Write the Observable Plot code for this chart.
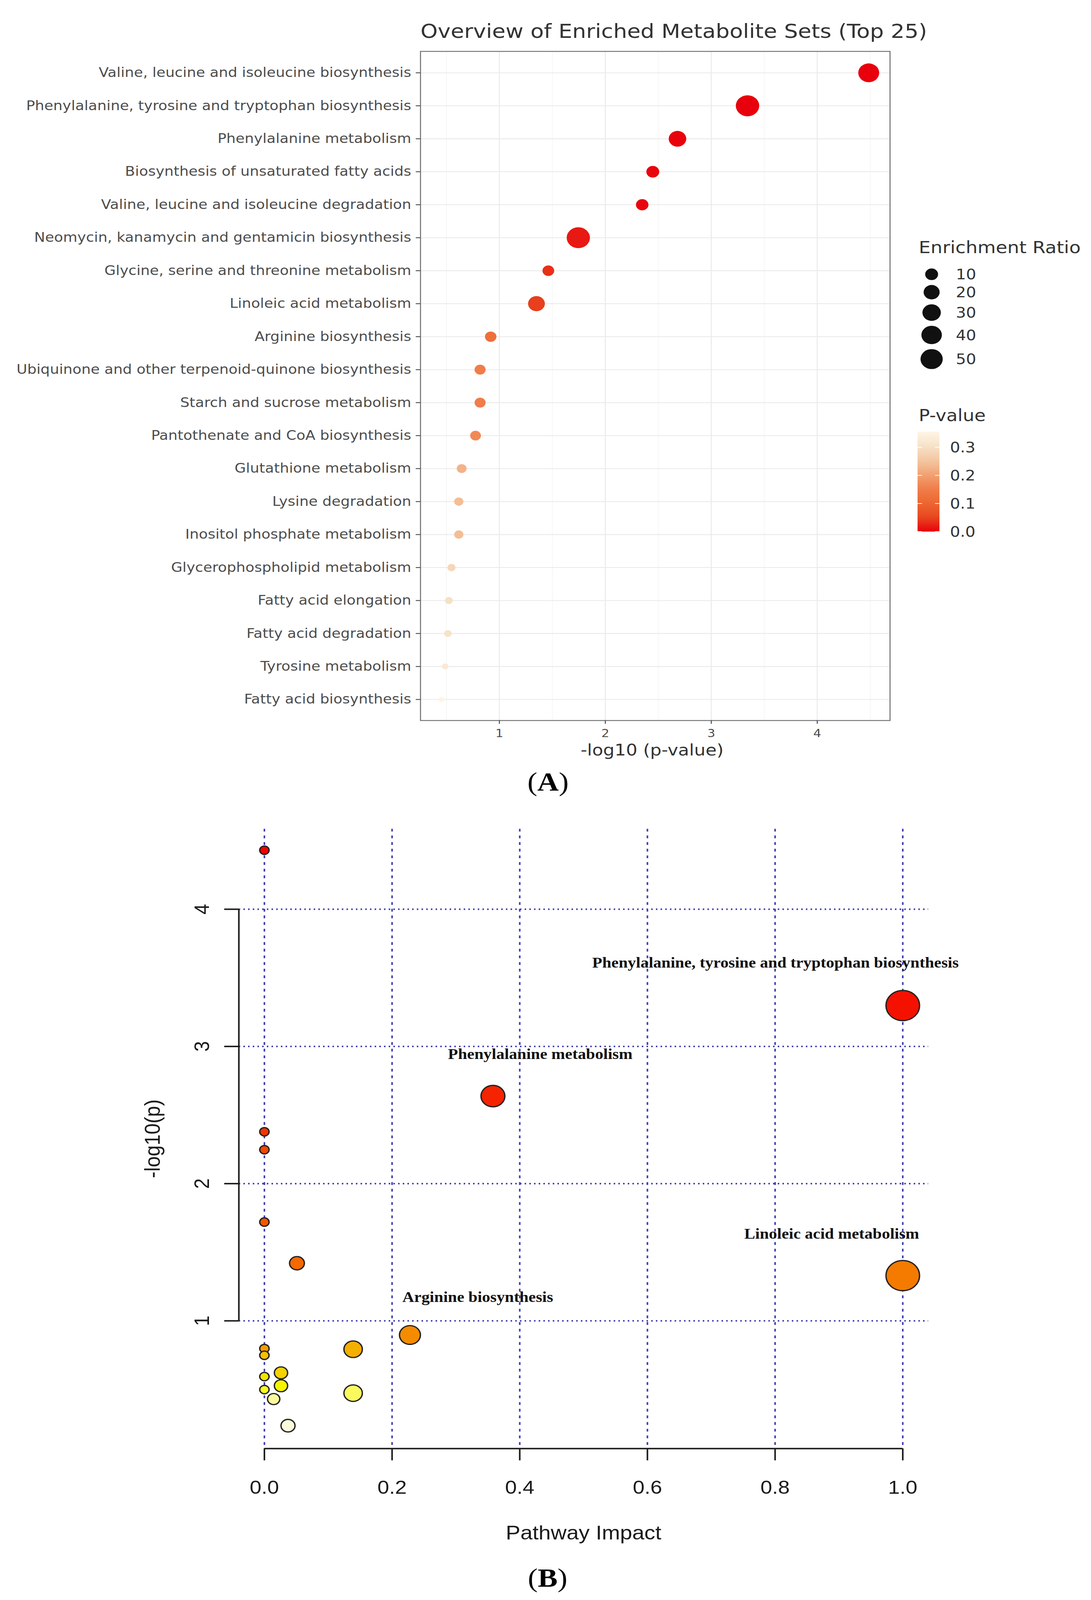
<!DOCTYPE html>
<html><head><meta charset="utf-8">
<script src="https://cdn.jsdelivr.net/npm/d3@7"></script>
<script src="https://cdn.jsdelivr.net/npm/@observablehq/plot@0.6"></script>
<style>
html,body{margin:0;padding:0;background:#fff;overflow:hidden;}
#page{position:relative;width:2793px;height:4560px;overflow:hidden;background:#fff;transform-origin:0 0;}
#page svg{position:absolute;left:0;}
</style></head><body><div id="page"></div>
<script>
// ---------- Panel A data ----------
const setNames = [
  "Valine, leucine and isoleucine biosynthesis",
  "Phenylalanine, tyrosine and tryptophan biosynthesis",
  "Phenylalanine metabolism",
  "Biosynthesis of unsaturated fatty acids",
  "Valine, leucine and isoleucine degradation",
  "Neomycin, kanamycin and gentamicin biosynthesis",
  "Glycine, serine and threonine metabolism",
  "Linoleic acid metabolism",
  "Arginine biosynthesis",
  "Ubiquinone and other terpenoid-quinone biosynthesis",
  "Starch and sucrose metabolism",
  "Pantothenate and CoA biosynthesis",
  "Glutathione metabolism",
  "Lysine degradation",
  "Inositol phosphate metabolism",
  "Glycerophospholipid metabolism",
  "Fatty acid elongation",
  "Fatty acid degradation",
  "Tyrosine metabolism",
  "Fatty acid biosynthesis"
];
const setLogP = [4.486, 3.342, 2.681, 2.448, 2.348, 1.745, 1.462, 1.350, 0.918, 0.818, 0.818, 0.775, 0.644, 0.617, 0.617, 0.548, 0.523, 0.514, 0.488, 0.452];
const setRatio = [42.5, 57, 26, 10, 9, 56, 7.1, 23, 6.7, 5.7, 5.7, 5.2, 3.6, 2.7, 2.7, 1.34, 1.1, 0.96, 0.31, 0.05];
const ratioBreaks = [10, 20, 30, 40, 50];
const pBreaks = [0.0, 0.1, 0.2, 0.3];
const xTicksA = [1, 2, 3, 4];
const xMinorA = [0.5, 1.5, 2.5, 3.5, 4.5];
const titleA = "Overview of Enriched Metabolite Sets (Top 25)";
const xLabelA = "-log10 (p-value)";

// ---------- Panel B data ----------
const impact = [0, 1.0, 0.358, 0, 0, 0, 0.051, 1.0, 0.228, 0, 0.139, 0, 0.026, 0, 0.026, 0, 0.139, 0.0145, 0.037];
const logP   = [4.43, 3.298, 2.638, 2.378, 2.247, 1.72, 1.42, 1.33, 0.897, 0.798, 0.793, 0.749, 0.621, 0.594, 0.527, 0.499, 0.473, 0.430, 0.236];
const pathName = ["", "Phenylalanine, tyrosine and tryptophan biosynthesis", "Phenylalanine metabolism", "", "", "", "",
  "Linoleic acid metabolism", "Arginine biosynthesis", "", "", "", "", "", "", "", "", "", ""];
const xTicksB = [0, 0.2, 0.4, 0.6, 0.8, 1.0];
const yTicksB = [1, 2, 3, 4];
const xLabelB = "Pathway Impact";
const yLabelB = "-log10(p)";

// ---------- Panel A ----------
const dataA = setNames.map((name, i) => ({name, logp: setLogP[i], p: Math.pow(10, -setLogP[i]), ratio: setRatio[i]}));
const pStops = [0, 0.05, 0.1, 0.15, 0.2, 0.25, 0.3, 0.356];
const pColors = ["#e8000c", "#e8461e", "#ec6630", "#f07c48", "#f2a070", "#f3c49e", "#f6e0c6", "#fff5e6"];
const fontA = "DejaVu Sans, Verdana, sans-serif";

const chartA = Plot.plot({
  width: 2300, height: 2180,
  marginLeft: 1076, marginRight: 22, marginTop: 146, marginBottom: 127,
  style: {fontFamily: fontA, background: "transparent", overflow: "visible"},
  x: {domain: [0.2555, 4.687], label: null},
  y: {type: "point", domain: setNames, padding: 0.6, label: null},
  r: {type: "sqrt", domain: [10, 50], range: [16.5, 28.5], clamp: false},
  color: {type: "linear", domain: pStops, range: pColors},
  marks: [
    Plot.ruleX(xMinorA, {stroke: "#f4f4f4", strokeWidth: 1.6}),
    Plot.ruleX(xTicksA, {stroke: "#ebebeb", strokeWidth: 2.6}),
    Plot.ruleY(setNames, {stroke: "#ebebeb", strokeWidth: 2.6}),
    Plot.frame({stroke: "#707070", strokeWidth: 2.6}),
    Plot.axisY({tickSize: 11.7, tickPadding: 12, fontSize: 37.5, fontFamily: fontA, color: "#4d4d4d", strokeWidth: 2.5, label: null}),
    Plot.axisX(xTicksA, {tickSize: 10, tickPadding: 14.6, tickFormat: d => String(d), fontSize: 32, fontFamily: fontA, color: "#4d4d4d", strokeWidth: 2.5, label: null}),
    Plot.dot(dataA, {x: "logp", y: "name", r: "ratio", fill: "p"}),
    Plot.text([titleA], {frameAnchor: "top-left", textAnchor: "start", lineAnchor: "middle", dy: -56, fontSize: 56, fontFamily: fontA, fill: "#333"}),
    Plot.text([xLabelA], {frameAnchor: "bottom", textAnchor: "middle", lineAnchor: "middle", dy: 85, dx: -8, fontSize: 46, fontFamily: fontA, fill: "#333"})
  ]
});
chartA.style.top = "0px";
document.getElementById("page").appendChild(chartA);

// ---------- Panel B ----------
function hsv(h, s, v) {
  const i = Math.floor(h * 6), f = h * 6 - i, p = v * (1 - s), q = v * (1 - f * s), t = v * (1 - (1 - f) * s);
  let r, g, b;
  switch (i % 6) {
    case 0: r = v; g = t; b = p; break;
    case 1: r = q; g = v; b = p; break;
    case 2: r = p; g = v; b = t; break;
    case 3: r = p; g = q; b = v; break;
    case 4: r = t; g = p; b = v; break;
    default: r = v; g = p; b = q;
  }
  return d3.rgb(r * 255, g * 255, b * 255).formatHex();
}
function heatColors(n) { // R grDevices::heat.colors
  const j = Math.floor(n / 4), i = n - j, out = [];
  for (let k = 0; k < i; k++) out.push(hsv(i > 1 ? (k / (i - 1)) / 6 : 0, 1, 0.96));
  for (let k = 0; k < j; k++) {
    const s0 = 1 - 1 / (2 * j), s1 = 1 / (2 * j);
    out.push(hsv(1 / 6, j > 1 ? s0 + (s1 - s0) * k / (j - 1) : s0, 0.98));
  }
  return out;
}
const nB = impact.length;
const orderB = d3.sort(d3.range(nB), i => -logP[i]);
const rankB = new Array(nB);
orderB.forEach((idx, r) => rankB[idx] = r);
const dataB = impact.map((x, i) => ({x, y: logP[i], name: pathName[i], rank: rankB[i]}));

const xDomB = [-0.04, 1.04], yDomB = [0.069, 4.585];
const gridBlue = "#3c3cb4";
const fontB = "Liberation Sans, Arial, sans-serif";
const labelFont = "Liberation Serif, Times New Roman, serif";
const labelOffsets = {
  "Phenylalanine, tyrosine and tryptophan biosynthesis": [-326, -122],
  "Phenylalanine metabolism": [121, -119],
  "Linoleic acid metabolism": [-182, -119],
  "Arginine biosynthesis": [173.5, -108]
};

const chartB = Plot.plot({
  width: 2793, height: 2200,
  marginLeft: 611, marginRight: 417, marginTop: 72, marginBottom: 362,
  style: {fontFamily: fontB, background: "transparent", overflow: "visible"},
  x: {domain: xDomB, label: null},
  y: {domain: yDomB, label: null},
  r: {type: "sqrt", domain: [0, 1], range: [12, 43]},
  color: {type: "ordinal", domain: d3.range(nB), range: heatColors(nB)},
  marks: [
    Plot.ruleY(yTicksB, {stroke: gridBlue, strokeWidth: 4, strokeDasharray: "4 8"}),
    Plot.ruleX(xTicksB, {stroke: gridBlue, strokeWidth: 4, strokeDasharray: "8 11"}),
    Plot.ruleX([xDomB[0]], {y1: yTicksB[0], y2: yTicksB[yTicksB.length - 1], stroke: "#1a1a1a", strokeWidth: 4}),
    Plot.ruleY([yDomB[0]], {x1: xTicksB[0], x2: xTicksB[xTicksB.length - 1], stroke: "#1a1a1a", strokeWidth: 4}),
    Plot.axisX(xTicksB, {tickSize: 34, tickPadding: 56, tickFormat: d3.format(".1f"), fontSize: 54, fontFamily: fontB, color: "#1a1a1a", strokeWidth: 4, label: null}),
    Plot.axisY(yTicksB, {tickSize: 37, tickFormat: () => "", color: "#1a1a1a", strokeWidth: 4, label: null}),
    Plot.text(yTicksB, {y: d => d, text: d => String(d), frameAnchor: "left", textAnchor: "middle", lineAnchor: "middle", rotate: -90, dx: -94, fontSize: 54, fontFamily: fontB, fill: "#1a1a1a"}),
    Plot.text([yLabelB], {frameAnchor: "left", textAnchor: "middle", lineAnchor: "middle", rotate: -90, dx: -220, fontSize: 56, fontFamily: fontB, fill: "#1a1a1a"}),
    Plot.text([xLabelB], {frameAnchor: "bottom", textAnchor: "middle", lineAnchor: "middle", dy: 241, fontSize: 56, fontFamily: fontB, fill: "#1a1a1a"}),
    Plot.dot(dataB, {x: "x", y: "y", r: "x", fill: "rank", stroke: "#222", strokeWidth: 3.5}),
    ...Object.entries(labelOffsets).map(([name, [dx, dy]]) =>
      Plot.text(dataB.filter(d => d.name === name), {x: "x", y: "y", text: "name", dx, dy,
        textAnchor: "middle", lineAnchor: "middle", fontSize: 42, fontWeight: "bold", fontFamily: labelFont, fill: "#111"}))
  ]
});
chartB.style.top = "2290px";
document.getElementById("page").appendChild(chartB);

// ---------- Legends and panel captions (overlay) ----------
const rS = chartA.scale("r"), cS = chartA.scale("color");
const ov = d3.create("svg").attr("width", 2793).attr("height", 4560)
  .style("top", "0px").style("pointer-events", "none");

ov.append("text").attr("x", 2352).attr("y", 721.7).attr("font-family", fontA).attr("font-size", 48).attr("fill", "#333").text("Enrichment Ratio");
let cy = 781.7, prevD = null;
ratioBreaks.forEach(v => {
  const rad = rS.apply(v), d = 2 * rad;
  if (prevD !== null) cy += (prevD + d) / 2 + 14;
  ov.append("circle").attr("cx", 2385).attr("cy", cy).attr("r", rad).attr("fill", "#111");
  ov.append("text").attr("x", 2447).attr("y", cy).attr("dy", "0.36em").attr("font-family", fontA).attr("font-size", 41).attr("fill", "#333").text(v);
  prevD = d;
});

ov.append("text").attr("x", 2352).attr("y", 1200).attr("font-family", fontA).attr("font-size", 47).attr("fill", "#333").text("P-value");
const pMax = pStops[pStops.length - 1];
const barX = 2349, barW = 56, barTop = 1230, barBot = 1515;
const grad = ov.append("defs").append("linearGradient").attr("id", "pgrad").attr("x1", 0).attr("y1", 1).attr("x2", 0).attr("y2", 0);
d3.range(0, 21).forEach(k => {
  const p = pMax * k / 20;
  grad.append("stop").attr("offset", k / 20).attr("stop-color", cS.apply(p));
});
ov.append("rect").attr("x", barX).attr("y", barTop).attr("width", barW).attr("height", barBot - barTop).attr("fill", "url(#pgrad)");
pBreaks.forEach(p => {
  const y = barBot - p / pMax * (barBot - barTop);
  ov.append("line").attr("x1", barX).attr("x2", barX + barW / 5).attr("y1", y).attr("y2", y).attr("stroke", "#fff").attr("stroke-width", 2);
  ov.append("line").attr("x1", barX + barW * 4 / 5).attr("x2", barX + barW).attr("y1", y).attr("y2", y).attr("stroke", "#fff").attr("stroke-width", 2);
  ov.append("text").attr("x", 2432).attr("y", y).attr("dy", "0.36em").attr("font-family", fontA).attr("font-size", 41).attr("fill", "#333").text(d3.format(".1f")(p));
});

function caption(letter, x, y) {
  const t = ov.append("text").attr("x", x).attr("y", y).attr("text-anchor", "middle")
    .attr("font-family", labelFont).attr("font-size", 76).attr("fill", "#000");
  t.append("tspan").text("(");
  t.append("tspan").attr("font-weight", "bold").text(letter);
  t.append("tspan").text(")");
}
caption("A", 1403, 2253);
caption("B", 1402, 4522);

document.getElementById("page").appendChild(ov.node());

// The real viewport may be shorter than 4560 px; fit the full layout into it.
const vh = window.innerHeight;
const sy = vh > 0 && vh < 4560 ? vh / 4560 : 1;
if (sy < 1) document.getElementById("page").style.transform = `scale(1, ${sy})`;
</script>
</body></html>
